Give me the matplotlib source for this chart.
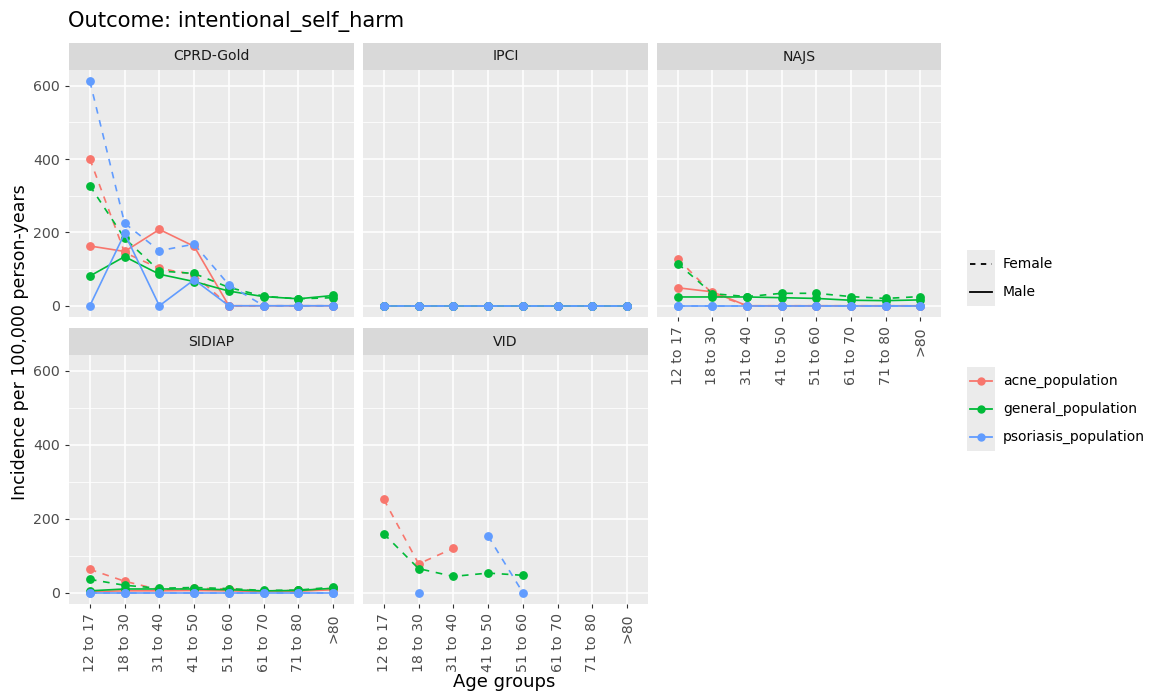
import numpy as np
import matplotlib.pyplot as plt
from matplotlib.lines import Line2D
from matplotlib.patches import Rectangle

nan = np.nan

age_groups = ["12 to 17", "18 to 30", "31 to 40", "41 to 50",
              "51 to 60", "61 to 70", "71 to 80", ">80"]
populations = ["acne_population", "general_population", "psoriasis_population"]
colors = ["#F8766D", "#00BA38", "#619CFF"]

# incidence per 100,000 person-years, per database / population / sex
cprd_female = {
    "acne_population":      [400, 145, 102, 85, 0, 0, 0, 0],
    "general_population":   [327, 184, 95, 88, 50, 26, 19, 22],
    "psoriasis_population": [612, 225, 150, 168, 57, 0, 0, 0],
}
cprd_male = {
    "acne_population":      [163, 148, 208, 162, 0, 0, 0, 0],
    "general_population":   [81, 134, 86, 66, 40, 25, 19, 28],
    "psoriasis_population": [0, 197, 0, 71, 0, 0, 0, 0],
}
ipci_female = {
    "acne_population":      [0, 0, 0, 0, 0, 0, 0, 0],
    "general_population":   [0, 0, 0, 0, 0, 0, 0, 0],
    "psoriasis_population": [0, 0, 0, 0, 0, 0, 0, 0],
}
ipci_male = {
    "acne_population":      [0, 0, 0, 0, 0, 0, 0, 0],
    "general_population":   [0, 0, 0, 0, 0, 0, 0, 0],
    "psoriasis_population": [0, 0, 0, 0, 0, 0, 0, 0],
}
najs_female = {
    "acne_population":      [128, 33, 0, 0, 0, 0, 0, 0],
    "general_population":   [115, 33, 25, 34, 34, 25, 20, 25],
    "psoriasis_population": [0, 0, 0, 0, 0, 0, 0, 0],
}
najs_male = {
    "acne_population":      [49, 38, 0, 0, 0, 0, 0, 0],
    "general_population":   [24, 24, 24, 22, 20, 15, 14, 16],
    "psoriasis_population": [0, 0, 0, 0, 0, 0, 0, 0],
}
sidiap_female = {
    "acne_population":      [63, 31, 8, 12, 10, 5, 6, 12],
    "general_population":   [36, 20, 12, 14, 11, 6, 7, 15],
    "psoriasis_population": [0, 0, 0, 0, 0, 0, 0, 0],
}
sidiap_male = {
    "acne_population":      [3, 5, 5, 6, 5, 3, 4, 8],
    "general_population":   [5, 10, 10, 10, 8, 5, 6, 12],
    "psoriasis_population": [0, 0, 0, 0, 0, 0, 0, 0],
}
vid_female = {
    "acne_population":      [252, 78, 120, nan, nan, nan, nan, nan],
    "general_population":   [159, 65, 44, 53, 47, nan, nan, nan],
    "psoriasis_population": [nan, 0, nan, 153, 0, nan, nan, nan],
}
vid_male = {
    "acne_population":      [nan] * 8,
    "general_population":   [nan] * 8,
    "psoriasis_population": [nan] * 8,
}

W, H = 1151, 693
fig = plt.figure(figsize=(W / 100, H / 100), dpi=100)

def px_axes(x0, y0, x1, y1):
    return fig.add_axes([x0 / W, 1 - y1 / H, (x1 - x0) / W, (y1 - y0) / H])

panels = [
    ("CPRD-Gold", cprd_female, cprd_male, (69, 70, 354, 317), True, False),
    ("IPCI", ipci_female, ipci_male, (363, 70, 648, 317), False, False),
    ("NAJS", najs_female, najs_male, (657, 70, 941, 317), False, True),
    ("SIDIAP", sidiap_female, sidiap_male, (69, 355, 354, 604), True, True),
    ("VID", vid_female, vid_male, (363, 355, 648, 604), False, True),
]

x = np.arange(len(age_groups))
for name, fem, mal, (x0, y0, x1, y1), show_y, show_x in panels:
    ax = px_axes(x0, y0, x1, y1)
    ax.set_facecolor("#EBEBEB")
    for s in ax.spines.values():
        s.set_visible(False)
    ax.set_xlim(-0.6, 7.6)
    ax.set_ylim(-30.6, 642.6)
    ax.set_yticks([0, 200, 400, 600])
    ax.set_yticks([100, 300, 500], minor=True)
    ax.set_xticks(x)
    ax.grid(True, which="major", color="white", linewidth=1.1)
    ax.grid(True, which="minor", axis="y", color="white", linewidth=0.55)
    ax.set_axisbelow(True)
    ax.tick_params(which="minor", length=0)
    ax.tick_params(which="major", colors="#333333", length=3, width=0.8,
                   labelcolor="#4D4D4D", labelsize=10.2)
    if show_y:
        ax.set_yticklabels(["0", "200", "400", "600"])
    else:
        ax.tick_params(axis="y", length=0, labelleft=False)
    if show_x:
        ax.set_xticklabels(age_groups, rotation=90)
    else:
        ax.tick_params(axis="x", length=0, labelbottom=False)

    for pop, col in zip(populations, colors):
        ax.plot(x, fem[pop], color=col, linestyle=(0, (4, 4)), linewidth=1.2,
                marker="o", markersize=5.3)
        ax.plot(x, mal[pop], color=col, linestyle="-", linewidth=1.2,
                marker="o", markersize=5.3)

    strip = px_axes(x0, y0 - 27, x1, y0)
    strip.set_facecolor("#D9D9D9")
    strip.set_xticks([])
    strip.set_yticks([])
    for s in strip.spines.values():
        s.set_visible(False)
    strip.text(0.5, 0.5, name, ha="center", va="center", fontsize=10.1,
               color="#1A1A1A", transform=strip.transAxes)

fig.text(68 / W, 1 - 22 / H, "Outcome: intentional_self_harm", fontsize=15.2,
         ha="left", va="center")
fig.text(20 / W, 1 - 342 / H, "Incidence per 100,000 person-years",
         rotation=90, fontsize=12.5, ha="center", va="center")
fig.text(504 / W, 1 - 682 / H, "Age groups", fontsize=13,
         ha="center", va="center")

# legends drawn in figure pixels
def key(yc, text, color, ls, marker):
    fig.patches.append(Rectangle((967 / W, 1 - (yc + 14) / H), 28 / W, 28 / H,
                                 transform=fig.transFigure, facecolor="#EBEBEB",
                                 edgecolor="none"))
    fig.add_artist(Line2D([970 / W, 992 / W], [1 - yc / H, 1 - yc / H],
                          transform=fig.transFigure, color=color,
                          linestyle=ls, linewidth=1.3, marker=None))
    if marker:
        fig.add_artist(Line2D([981 / W], [1 - yc / H], transform=fig.transFigure,
                              color=color, marker="o", markersize=5,
                              linestyle="none"))
    fig.text(1003 / W, 1 - yc / H, text, fontsize=10, ha="left", va="center")

key(264, "Female", "black", (0, (3, 3)), False)
key(292, "Male", "black", "-", False)
for i, (pop, col) in enumerate(zip(populations, colors)):
    key(381 + 28 * i, pop, col, "-", True)

plt.savefig("out.png", dpi=100)
